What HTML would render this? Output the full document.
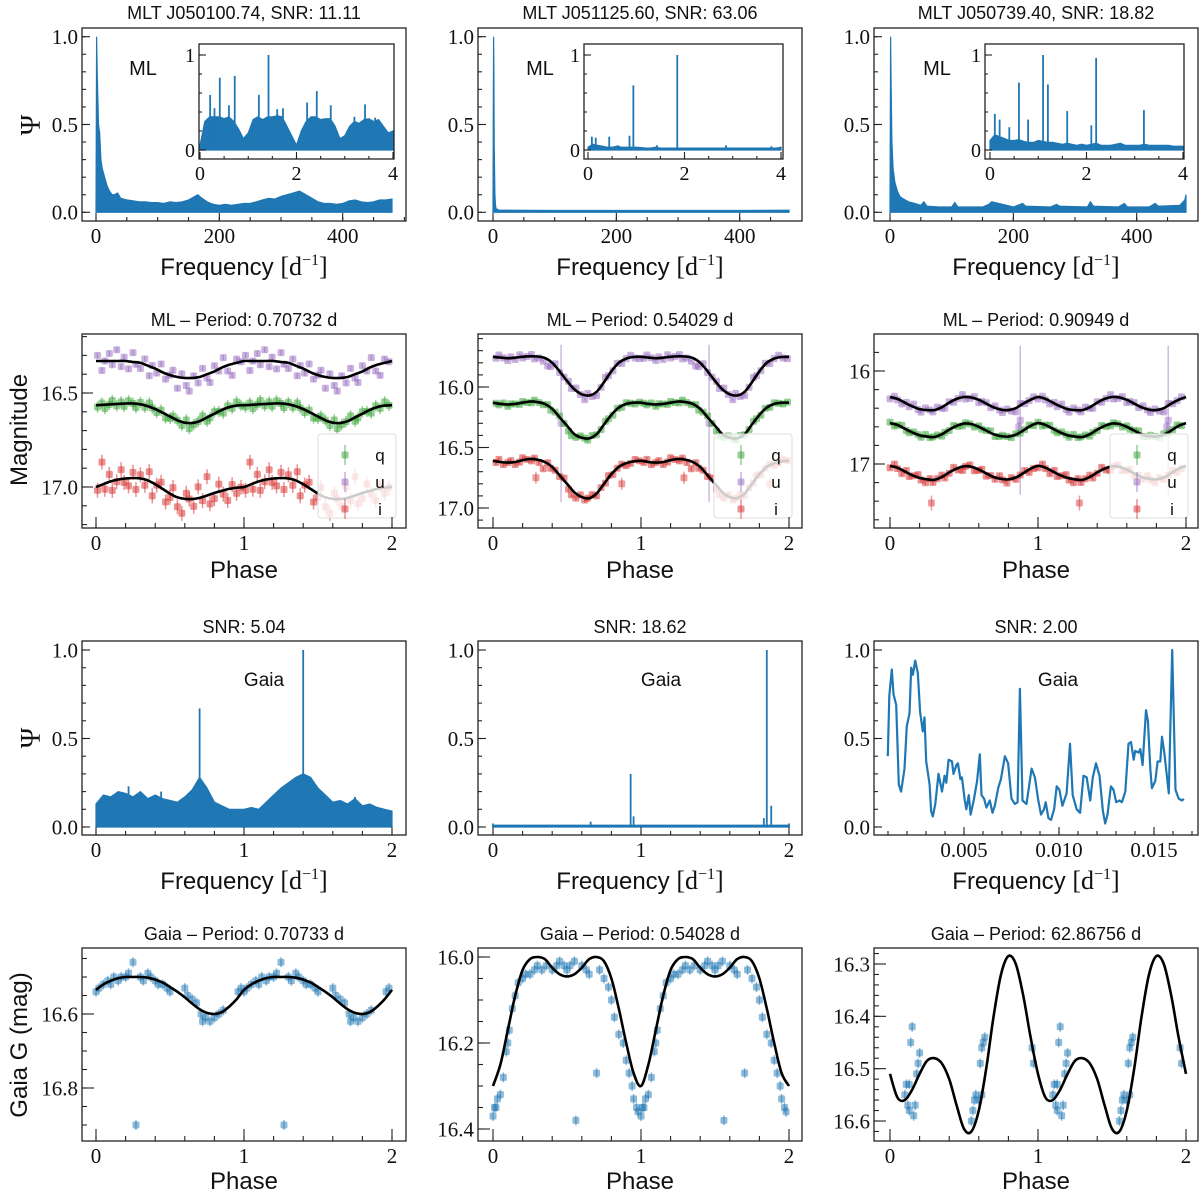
<!DOCTYPE html>
<html><head><meta charset="utf-8"><style>
html,body{margin:0;padding:0;background:#fff;}
svg{display:block;}
text{fill:#111;}
.sans{font-family:"Liberation Sans",sans-serif;}
.serif{font-family:"Liberation Serif",serif;}
</style></head>
<body>
<svg id="chart" width="1200" height="1194" viewBox="0 0 1200 1194" xmlns="http://www.w3.org/2000/svg"></svg>
<script>
// ---------- DATA ----------
const p1Freq=[0,1,2,4,6,8,10,14,18,22,26,30,35,40,50,60,70,80,90,100,110,120,130,140,150,160,165,170,180,190,200,210,220,230,240,250,260,270,280,290,300,310,320,330,340,350,360,370,380,390,400,410,420,430,440,450,460,470,480];
const p1Psi =[0,1.0,0.8,0.5,0.45,0.3,0.25,0.2,0.15,0.12,0.1,0.1,0.11,0.08,0.07,0.065,0.06,0.06,0.055,0.055,0.05,0.06,0.055,0.06,0.07,0.09,0.1,0.085,0.06,0.045,0.04,0.045,0.04,0.045,0.05,0.05,0.06,0.07,0.08,0.075,0.09,0.1,0.11,0.12,0.1,0.08,0.06,0.05,0.05,0.045,0.05,0.065,0.07,0.06,0.055,0.06,0.07,0.07,0.075];
const p2Freq=[0,0.5,1,1.5,2,3,4,5,10,100,200,300,400,480];
const p2Psi =[0,0.6,1.0,0.8,0.4,0.1,0.04,0.02,0.012,0.01,0.01,0.01,0.01,0.012];
const p3Freq=[0,1,2,3,5,8,12,16,20,30,40,50,55,60,80,100,105,110,150,160,165,200,215,220,260,270,275,320,325,330,370,380,385,420,430,435,470,478,480];
const p3Psi =[0,1.0,0.7,0.4,0.25,0.17,0.12,0.09,0.08,0.06,0.05,0.04,0.06,0.035,0.03,0.03,0.055,0.03,0.03,0.045,0.06,0.03,0.05,0.035,0.03,0.045,0.035,0.03,0.06,0.035,0.03,0.05,0.03,0.03,0.05,0.035,0.04,0.07,0.1];
const in1Env=[0.05,0.3,0.35,0.35,0.35,0.33,0.35,0.3,0.22,0.12,0.18,0.32,0.35,0.32,0.35,0.35,0.36,0.35,0.25,0.15,0.05,0.2,0.3,0.35,0.35,0.32,0.33,0.33,0.25,0.12,0.15,0.25,0.3,0.28,0.32,0.33,0.3,0.32,0.25,0.18,0.2];
const in1SpikeF=[0.21,0.30,0.41,0.6,0.72,1.22,1.42,1.6,1.72,2.22,2.42,2.71,3.2,3.42,3.63];
const in1SpikeV=[0.58,0.44,0.76,0.47,0.78,0.58,1.0,0.43,0.44,0.5,0.62,0.47,0.35,0.48,0.34];
const in2Env=[0.03,0.06,0.05,0.04,0.03,0.03,0.04,0.03,0.03,0.03,0.03,0.025,0.02,0.02,0.03,0.02,0.02,0.02,0.02,0.02,0.02,0.02,0.02,0.02,0.02,0.02,0.02,0.02,0.02,0.02,0.02,0.02,0.02,0.02,0.02,0.02,0.02,0.02,0.02,0.02,0.03];
const in2SpikeF=[0.08,0.16,0.44,0.62,0.86,0.94,1.43,1.85,2.86,3.8];
const in2SpikeV=[0.14,0.13,0.14,0.05,0.15,0.68,0.05,1.0,0.05,0.04];
const in3Env=[0.1,0.16,0.14,0.12,0.1,0.1,0.11,0.09,0.08,0.08,0.1,0.09,0.08,0.08,0.07,0.06,0.07,0.06,0.05,0.06,0.05,0.06,0.07,0.05,0.05,0.05,0.06,0.07,0.05,0.05,0.05,0.05,0.06,0.05,0.05,0.05,0.05,0.05,0.04,0.04,0.04];
const in3SpikeF=[0.1,0.2,0.4,0.6,0.79,1.1,1.2,1.6,2.1,2.2,3.19];
const in3SpikeV=[0.38,0.32,0.24,0.71,0.32,1.0,0.69,0.41,0.26,0.97,0.42];

const m1u=[16.33,16.33,16.33,16.33,16.33,16.335,16.34,16.355,16.37,16.39,16.405,16.415,16.42,16.42,16.415,16.40,16.385,16.365,16.35,16.34,16.33];
const m1q=[16.565,16.563,16.56,16.558,16.556,16.556,16.56,16.57,16.585,16.605,16.625,16.645,16.658,16.66,16.65,16.63,16.61,16.59,16.575,16.567,16.565];
const m1i=[17.0,16.985,16.97,16.96,16.955,16.952,16.955,16.965,16.985,17.01,17.035,17.055,17.063,17.064,17.058,17.045,17.032,17.02,17.01,17.004,17.0];
const m2u=[15.75,15.757,15.762,15.758,15.75,15.746,15.748,15.76,15.8,15.87,15.95,16.02,16.06,16.07,16.04,15.96,15.87,15.8,15.765,15.752,15.75];
const m2q=[16.13,16.14,16.145,16.14,16.13,16.12,16.125,16.14,16.18,16.25,16.32,16.39,16.42,16.425,16.39,16.31,16.23,16.17,16.14,16.13,16.13];
const m2i=[16.61,16.62,16.625,16.62,16.605,16.595,16.6,16.62,16.66,16.73,16.8,16.87,16.91,16.92,16.88,16.8,16.72,16.66,16.63,16.615,16.61];
const m3u=[16.28,16.30,16.34,16.38,16.41,16.42,16.42,16.39,16.34,16.30,16.28,16.285,16.31,16.35,16.39,16.415,16.42,16.40,16.35,16.31,16.28];
const m3q=[16.56,16.58,16.62,16.66,16.69,16.705,16.71,16.68,16.63,16.59,16.565,16.57,16.6,16.64,16.68,16.70,16.705,16.685,16.64,16.59,16.56];
const m3i=[17.02,17.04,17.08,17.12,17.15,17.165,17.17,17.14,17.09,17.05,17.025,17.03,17.06,17.1,17.14,17.16,17.165,17.145,17.1,17.05,17.02];
const ph1=[0.01,0.04,0.06,0.09,0.11,0.14,0.17,0.19,0.22,0.25,0.27,0.3,0.33,0.36,0.38,0.41,0.44,0.47,0.5,0.52,0.55,0.58,0.61,0.63,0.66,0.69,0.72,0.75,0.77,0.8,0.83,0.86,0.89,0.92,0.95,0.98];
const ph2=[0.02,0.04,0.07,0.1,0.12,0.15,0.18,0.2,0.23,0.26,0.28,0.31,0.34,0.37,0.39,0.42,0.45,0.48,0.51,0.53,0.56,0.59,0.62,0.64,0.67,0.7,0.73,0.76,0.78,0.81,0.84,0.87,0.9,0.93,0.96,0.99];
const ph3=[0.0,0.03,0.05,0.08,0.11,0.13,0.16,0.19,0.21,0.24,0.27,0.29,0.32,0.35,0.37,0.4,0.43,0.46,0.49,0.51,0.54,0.57,0.6,0.62,0.65,0.68,0.71,0.74,0.76,0.79,0.82,0.85,0.88,0.91,0.94,0.97];
const r1u=[-0.03,0.05,0.0,-0.04,0.02,-0.06,0.03,-0.02,0.04,-0.05,0.01,0.03,-0.03,0.05,-0.01,0.02,-0.04,0.03,0.0,-0.03,0.06,-0.02,0.04,0.07,-0.01,0.03,-0.04,0.02,0.05,-0.03,0.01,-0.05,0.03,0.06,-0.02,0.0];
const r1q=[0.01,-0.01,0.02,0.0,-0.02,0.01,-0.01,0.015,-0.015,0.0,0.02,-0.01,0.01,-0.02,0.0,0.015,-0.01,0.02,0.01,-0.01,0.0,0.02,-0.015,0.03,0.01,0.0,-0.02,0.02,0.01,-0.01,0.0,0.02,-0.01,0.01,-0.02,0.0];
const r1i=[0.02,-0.12,0.03,-0.04,0.05,0.01,-0.05,0.02,0.04,-0.03,0.06,-0.02,0.03,-0.05,0.07,0.0,-0.03,0.06,0.02,-0.04,0.05,0.08,-0.03,0.0,0.04,-0.06,0.02,-0.1,0.05,0.03,-0.04,0.02,0.06,-0.02,0.03,0.0];
const r2u=[0.01,-0.02,0.0,0.02,-0.01,0.015,-0.02,0.01,0.0,-0.015,0.02,0.01,0.03,0.05,0.04,-0.02,0.01,0.0,-0.01,0.02,-0.02,0.01,0.04,-0.015,0.02,0.03,0.01,-0.02,0.0,0.01,-0.01,0.02,0.0,-0.02,0.01,0.015];
const r2q=[0.0,0.01,-0.01,0.015,-0.005,0.0,0.01,-0.01,0.005,0.01,-0.015,0.0,0.01,-0.01,0.02,0.0,-0.01,0.01,0.03,0.04,0.02,-0.01,0.0,0.015,-0.01,0.005,0.01,-0.01,0.0,0.015,-0.005,0.01,-0.01,0.0,0.01,-0.005];
const r2i=[0.01,-0.02,0.02,0.0,-0.015,0.02,0.01,-0.02,0.0,0.015,-0.01,0.02,0.06,-0.01,0.02,0.0,0.01,-0.02,0.03,0.05,0.04,-0.01,0.02,0.0,-0.015,0.02,0.0,0.01,-0.02,0.015,0.0,-0.01,0.02,0.01,-0.015,0.0];
const r3u=[0.02,-0.02,0.01,0.03,-0.01,0.02,-0.03,0.01,0.03,-0.02,0.0,0.02,-0.02,0.01,0.03,-0.01,0.02,0.0,-0.03,0.02,0.01,-0.02,0.03,0.0,-0.01,0.02,-0.02,0.01,0.03,-0.01,0.02,0.04,-0.02,0.01,0.0,-0.02];
const r3q=[-0.01,0.02,0.0,-0.02,0.01,0.02,-0.01,0.0,0.02,-0.02,0.01,0.0,-0.01,0.02,0.0,0.01,-0.02,0.01,0.02,-0.01,0.0,0.02,-0.01,0.01,0.0,-0.02,0.02,0.01,-0.01,0.0,0.02,-0.01,0.01,0.0,-0.02,0.01];
const r3i=[0.02,-0.03,0.01,0.04,-0.02,0.03,0.0,-0.03,0.02,0.04,-0.01,0.03,0.0,-0.02,0.03,0.01,-0.03,0.02,0.04,0.0,-0.02,0.03,0.01,-0.02,0.03,0.0,0.02,-0.03,0.01,0.04,-0.01,0.02,0.0,-0.02,0.03,0.01];
const errML1=[0.03,0.015,0.04];
const errML2=[0.015,0.012,0.02];
const errML3=[0.02,0.015,0.025];
const out2Ph=[0.46,0.29,0.87];
const out2Mag=[16.3,16.75,16.8];
const out2Err=[0.65,0.05,0.05];
const out2Band=[1,2,2];
const out3Ph=[0.88,0.28,0.87];
const out3Mag=[16.53,17.42,16.6];
const out3Err=[0.8,0.08,0.05];
const out3Band=[1,2,1];

const g1Env=[0.13,0.18,0.17,0.2,0.19,0.17,0.2,0.16,0.18,0.16,0.15,0.14,0.17,0.21,0.28,0.22,0.14,0.12,0.1,0.1,0.1,0.11,0.1,0.14,0.18,0.22,0.25,0.28,0.3,0.28,0.22,0.18,0.14,0.15,0.13,0.16,0.12,0.13,0.11,0.1,0.09];
const g1SpikeF=[0.22,0.44,0.70,1.40,1.75];
const g1SpikeV=[0.23,0.2,0.67,1.0,0.17];
const g2SpikeF=[0.0,0.66,0.93,0.95,1.83,1.85,1.88,2.0];
const g2SpikeV=[0.02,0.03,0.3,0.06,0.05,1.0,0.12,0.02];
const g3Freq=[0.99,1.07,1.20,1.29,1.43,1.57,1.69,1.87,1.99,2.13,2.22,2.31,2.43,2.57,2.69,2.83,2.92,3.01,3.19,3.27,3.36,3.49,3.66,3.84,3.98,4.07,4.19,4.37,4.45,4.60,4.68,4.81,4.89,5.04,5.12,5.25,5.35,5.51,5.69,5.83,5.92,6.06,6.18,6.36,6.50,6.62,6.80,6.94,7.15,7.32,7.50,7.68,7.82,7.94,8.08,8.29,8.56,8.73,8.91,9.05,9.21,9.30,9.44,9.58,9.74,9.88,10.02,10.18,10.40,10.58,10.72,10.93,11.11,11.29,11.46,11.64,11.78,11.95,12.13,12.31,12.43,12.55,12.73,12.87,13.01,13.19,13.31,13.49,13.66,13.79,13.93,14.01,14.19,14.28,14.40,14.58,14.68,14.81,14.89,15.07,15.19,15.33,15.42,15.55,15.78,15.96,16.13,16.30,16.48,16.57];
const g3Psi=[0.40,0.74,0.89,0.75,0.69,0.24,0.20,0.33,0.57,0.64,0.90,0.86,0.94,0.87,0.65,0.54,0.62,0.37,0.24,0.09,0.06,0.13,0.30,0.20,0.29,0.25,0.38,0.37,0.30,0.35,0.36,0.27,0.28,0.15,0.10,0.18,0.07,0.15,0.26,0.41,0.18,0.16,0.11,0.15,0.08,0.12,0.22,0.27,0.40,0.36,0.16,0.13,0.14,0.78,0.15,0.13,0.33,0.28,0.15,0.07,0.10,0.14,0.05,0.04,0.10,0.23,0.21,0.12,0.19,0.47,0.18,0.10,0.08,0.29,0.28,0.15,0.28,0.36,0.29,0.09,0.02,0.07,0.23,0.21,0.14,0.15,0.14,0.20,0.47,0.48,0.38,0.43,0.42,0.44,0.35,0.66,0.60,0.32,0.22,0.26,0.37,0.37,0.51,0.41,0.19,1.0,0.21,0.16,0.15,0.16];

const gm1=[16.535,16.52,16.51,16.503,16.5,16.5,16.5,16.502,16.507,16.515,16.527,16.54,16.555,16.572,16.587,16.597,16.6,16.595,16.58,16.56,16.535];
const gm2=[16.3,16.25,16.17,16.09,16.03,16.005,16.0,16.005,16.025,16.04,16.045,16.04,16.025,16.005,16.0,16.01,16.05,16.12,16.2,16.27,16.3];
const gm3=[16.51,16.555,16.56,16.54,16.51,16.485,16.48,16.49,16.52,16.57,16.615,16.62,16.58,16.5,16.4,16.32,16.285,16.3,16.36,16.44,16.51];
const gp1=[0.0,0.02,0.05,0.08,0.1,0.12,0.15,0.17,0.2,0.22,0.25,0.27,0.3,0.32,0.35,0.37,0.4,0.42,0.45,0.48,0.5,0.6,0.62,0.65,0.68,0.71,0.72,0.74,0.77,0.8,0.83,0.86,0.96,0.98];
const gg1=[16.54,16.53,16.52,16.51,16.52,16.5,16.51,16.5,16.5,16.49,16.46,16.9,16.5,16.51,16.49,16.5,16.51,16.52,16.52,16.53,16.54,16.53,16.55,16.56,16.57,16.6,16.62,16.61,16.62,16.61,16.6,16.59,16.54,16.53];
const gp2=[0.0,0.01,0.02,0.03,0.05,0.07,0.09,0.1,0.11,0.13,0.15,0.17,0.2,0.22,0.25,0.28,0.3,0.33,0.36,0.4,0.43,0.45,0.48,0.5,0.52,0.55,0.56,0.6,0.63,0.65,0.7,0.72,0.75,0.78,0.8,0.82,0.85,0.88,0.9,0.92,0.94,0.95,0.97,0.98];
const gg2=[16.37,16.35,16.35,16.33,16.32,16.28,16.22,16.2,16.17,16.12,16.09,16.06,16.05,16.04,16.04,16.03,16.02,16.03,16.02,16.03,16.02,16.01,16.02,16.03,16.02,16.01,16.38,16.02,16.03,16.04,16.27,16.03,16.05,16.07,16.1,16.14,16.18,16.2,16.24,16.27,16.3,16.33,16.35,16.36];
const gp3=[0.1,0.11,0.12,0.13,0.13,0.14,0.15,0.16,0.17,0.18,0.19,0.2,0.55,0.56,0.57,0.58,0.6,0.61,0.62,0.62,0.63,0.64,0.96,0.97];
const gg3=[16.55,16.53,16.57,16.58,16.53,16.45,16.42,16.59,16.57,16.51,16.49,16.47,16.6,16.58,16.56,16.55,16.56,16.49,16.46,16.55,16.45,16.44,16.46,16.49];

// ---------- HELPERS ----------
const NS='http://www.w3.org/2000/svg';
const svg=document.getElementById('chart');
function mk(tag,parent){const e=document.createElementNS(NS,tag);parent.appendChild(e);return e;}
function at(e,o){for(const k in o)e.setAttribute(k,o[k]);return e;}
function lin(d0,p0,d1,p1){return v=>p0+(v-d0)*(p1-p0)/(d1-d0);}
function range(a,b,s){const r=[];for(let v=a;v<=b+1e-9;v+=s)r.push(Math.round(v/s)*s);return r;}
function txt(parent,x,y,s,size,cls,anchor){const t=mk('text',parent);at(t,{x:x,y:y,'font-size':size,'text-anchor':anchor||'middle',class:cls});t.textContent=s;return t;}
function interp(M,ph){const f=ph/0.05;const i=Math.min(Math.floor(f),M.length-2);const t=f-i;return M[i]*(1-t)+M[i+1]*t;}
function smoothPath(pts){let d='M'+pts[0][0].toFixed(1)+','+pts[0][1].toFixed(1);for(let i=0;i<pts.length-1;i++){const p0=pts[Math.max(i-1,0)],p1=pts[i],p2=pts[i+1],p3=pts[Math.min(i+2,pts.length-1)];const c1=[p1[0]+(p2[0]-p0[0])/6,p1[1]+(p2[1]-p0[1])/6],c2=[p2[0]-(p3[0]-p1[0])/6,p2[1]-(p3[1]-p1[1])/6];d+='C'+c1[0].toFixed(1)+','+c1[1].toFixed(1)+' '+c2[0].toFixed(1)+','+c2[1].toFixed(1)+' '+p2[0].toFixed(1)+','+p2[1].toFixed(1);}return d;}
let clipN=0;
function clipFor(p){const defs=mk('defs',svg);const c=mk('clipPath',defs);const id='clip'+(clipN++);c.setAttribute('id',id);at(mk('rect',c),{x:p.x0,y:p.y0,width:p.x1-p.x0,height:p.y1-p.y0});return 'url(#'+id+')';}

function drawAxes(p,name){
  const g=mk('g',svg);
  
  
  const st={stroke:'#222','stroke-width':1.1};
  for(const v of p.xMinor){const x=p.sx(v);if(x<p.x0+1||x>p.x1-1)continue;at(mk('line',g),Object.assign({x1:x,x2:x,y1:p.y1,y2:p.y1-p.minLen},st));}
  for(const v of p.yMinor){const y=p.sy(v);if(y<p.y0+1||y>p.y1-1)continue;at(mk('line',g),Object.assign({x1:p.x0,x2:p.x0+p.minLen,y1:y,y2:y},st));}
  const xl=mk('g',g);
  
  
  p.xMajor.forEach((v,k)=>{const x=p.sx(v);at(mk('line',xl),Object.assign({x1:x,x2:x,y1:p.y1,y2:p.y1-p.majLen},st));txt(xl,x,p.y1+p.fs+1,p.xLab[k],p.fs,'serif');});
  const yl=mk('g',g);
  
  
  p.yMajor.forEach((v,k)=>{const y=p.sy(v);at(mk('line',yl),Object.assign({x1:p.x0,x2:p.x0+p.majLen,y1:y,y2:y},st));txt(yl,p.x0-4,y+p.fs*0.35,p.yLab[k],p.fs,'serif','end');});
  const r=mk('rect',g);
  at(r,{x:p.x0,y:p.y0,width:p.x1-p.x0,height:p.y1-p.y0,fill:'none',stroke:'#222','stroke-width':1.3});
  
  
}
function fillSeries(p,xs,ys,name){
  const g=mk('g',svg);g.setAttribute('clip-path',clipFor(p));
  const pts=xs.map((f,i)=>p.sx(f).toFixed(1)+','+p.sy(ys[i]).toFixed(1));
  const poly=mk('polygon',g);
  at(poly,{points:p.sx(xs[0]).toFixed(1)+','+p.sy(0)+' '+pts.join(' ')+' '+p.sx(xs[xs.length-1]).toFixed(1)+','+p.sy(0),fill:'#1f77b4',stroke:'#1f77b4','stroke-width':1.2});
  
  
  return g;
}
function spikes(g,p,F,V,name){
  F.forEach((f,i)=>{const l=mk('line',g);at(l,{x1:p.sx(f),x2:p.sx(f),y1:p.sy(0),y2:p.sy(V[i]),stroke:'#1f77b4','stroke-width':1.8});
    
    });
}
function freqLabel(cx,y){
  const t=mk('text',svg);at(t,{x:cx,y:y,'text-anchor':'middle','font-size':24,class:'sans'});
  
  
  const a=mk('tspan',t);a.textContent='Frequency ';
  const b=mk('tspan',t);at(b,{class:'serif','font-size':26});b.textContent='[d';
  const c=mk('tspan',t);at(c,{class:'serif','font-size':16,dy:-10});c.textContent='\u22121';
  const d=mk('tspan',t);at(d,{class:'serif','font-size':26,dy:10});d.textContent=']';
}
function title(cx,y,s){const t=txt(svg,cx,y,s,18,'sans');}

const X0=[82,478,874],X1=[406,802,1198],Z=[96,493,890];
const COLS=['col1','col2','col3'];
const FS=21;

// ---------- ROW 1 ----------
const titles1=['MLT J050100.74, SNR: 11.11','MLT J051125.60, SNR: 63.06','MLT J050739.40, SNR: 18.82'];
const mainF=[p1Freq,p2Freq,p3Freq],mainV=[p1Psi,p2Psi,p3Psi];
const inX0=[199,584,985],inX1=[394,783,1184],inZ=[200,588,990];
const inEnv=[in1Env,in2Env,in3Env],inSF=[in1SpikeF,in2SpikeF,in3SpikeF],inSV=[in1SpikeV,in2SpikeV,in3SpikeV];
const envF=range(0,4,0.1);
for(let c=0;c<3;c++){
  const p={x0:X0[c],x1:X1[c],y0:28,y1:221,sx:lin(0,Z[c],400,Z[c]+246.7),sy:lin(0,212.3,1,36.7),
    xMajor:[0,200,400],xLab:['0','200','400'],xMinor:range(0,500,50),yMajor:[0,0.5,1],yLab:['0.0','0.5','1.0'],yMinor:range(0,1,0.1),majLen:8,minLen:4,fs:FS};
  fillSeries(p,mainF[c],mainV[c],'periodogram-ml-'+COLS[c]);
  drawAxes(p,'periodogram-ml-'+COLS[c]);
  title((X0[c]+X1[c])/2,19,titles1[c]);
  freqLabel((X0[c]+X1[c])/2,275);
  const ml=txt(svg,Z[c]+47,75,'ML',20,'sans');
  const ip={x0:inX0[c],x1:inX1[c],y0:44,y1:159,sx:lin(0,inZ[c],4,inZ[c]+193),sy:lin(0,150,1,55),
    xMajor:[0,2,4],xLab:['0','2','4'],xMinor:range(0,4,0.5),yMajor:[0,1],yLab:['0','1'],yMinor:range(0,1,0.2),majLen:7,minLen:3,fs:20};
  at(mk('rect',svg),{x:ip.x0,y:ip.y0,width:ip.x1-ip.x0,height:ip.y1-ip.y0,fill:'#fff'});
  const g=fillSeries(ip,envF,inEnv[c],'inset-periodogram-'+COLS[c]);
  spikes(g,ip,inSF[c],inSV[c],'inset-peak');
  drawAxes(ip,'inset-'+COLS[c]);
}
const psi1=txt(svg,0,0,'\u03A8',28,'serif');at(psi1,{transform:'translate(40,125) rotate(-90)'});

// ---------- ROW 2 ----------
const titles2=['ML \u2013 Period: 0.70732 d','ML \u2013 Period: 0.54029 d','ML \u2013 Period: 0.90949 d'];
const models=[[m1q,m1u,m1i],[m2q,m2u,m2i],[m3q,m3u,m3i]];
const resid=[[r1q,r1u,r1i],[r2q,r2u,r2i],[r3q,r3u,r3i]];
const phs=[ph1,ph2,ph3];
const errs=[errML1,errML2,errML3];
const bandCol=['#2ca02c','#9467bd','#d62728'];
const bandName=['q','u','i'];
const outs=[null,[out2Ph,out2Mag,out2Err,out2Band],[out3Ph,out3Mag,out3Err,out3Band]];
const r2y=[lin(16.5,393,17.0,487),lin(16.0,387,17.0,508),lin(16,371,17,464)];
const r2yMaj=[[16.5,17.0],[16.0,16.5,17.0],[16,17]];
const r2yLab=[['16.5','17.0'],['16.0','16.5','17.0'],['16','17']];
const r2yMin=[range(16.2,17.2,0.1),range(15.6,17.1,0.1),range(15.6,17.6,0.2)];
function mark(g,x,y,ey,col,op,name){
  const l=mk('line',g);at(l,{x1:x,x2:x,y1:y-ey,y2:y+ey,stroke:col,'stroke-width':1.5,opacity:op});
  const r=mk('rect',g);at(r,{x:x-3.5,y:y-3.5,width:7,height:7,rx:1.5,fill:col,opacity:op});
  
  
}
for(let c=0;c<3;c++){
  const p={x0:X0[c],x1:X1[c],y0:334,y1:528,sx:lin(0,Z[c],2,Z[c]+296),sy:r2y[c],
    xMajor:[0,1,2],xLab:['0','1','2'],xMinor:range(-0.2,2.2,0.2),yMajor:r2yMaj[c],yLab:r2yLab[c],yMinor:r2yMin[c],majLen:11,minLen:5,fs:FS};
  const g=mk('g',svg);g.setAttribute('clip-path',clipFor(p));
  
  
  if(outs[c]){const o=outs[c];o[0].forEach((ph,k)=>{for(const s of [0,1]){mark(g,p.sx(ph+s),p.sy(o[1][k]),Math.abs(p.sy(o[1][k]+o[2][k])-p.sy(o[1][k])),bandCol[o[3][k]],0.45,'outlier-point');}});}
  for(const b of [1,0,2]){
    phs[c].forEach((ph,k)=>{const m=interp(models[c][b],ph)+resid[c][b][k];const ey=Math.abs(p.sy(m+errs[c][b])-p.sy(m));
      for(const s of [0,1]) mark(g,p.sx(ph+s),p.sy(m),ey,bandCol[b],0.5,'point-'+bandName[b]);});
  }
  for(const b of [1,0,2]){
    const pts=[];for(let k=0;k<=40;k++){const ph=k*0.05;pts.push([p.sx(ph),p.sy(models[c][b][k%20===0&&k>0?20:k%20])]);}
    const path=mk('path',g);at(path,{d:smoothPath(pts),fill:'none',stroke:'#000','stroke-width':2.6});
    
    
  }
  const lx=X1[c]-88,ly=434;
  const lg=mk('g',svg);
  
  
  at(mk('rect',lg),{x:lx,y:ly,width:78,height:84,rx:3,fill:'#fff','fill-opacity':0.8,stroke:'#ddd','stroke-width':1});
  ['q','u','i'].forEach((n,k)=>{const e=mk('g',lg);
    
    
    mark(e,lx+27,ly+21+k*27,10,bandCol[k],0.5,'legend-marker');
    txt(e,lx+62,ly+27+k*27,n,17,'sans');});
  drawAxes(p,'lightcurve-ml-'+COLS[c]);
  title((X0[c]+X1[c])/2,326,titles2[c]);
  const xt=txt(svg,(X0[c]+X1[c])/2,578,'Phase',24,'sans');
}
const mag=txt(svg,0,0,'Magnitude',24,'sans');at(mag,{transform:'translate(27,430) rotate(-90)'});

// ---------- ROW 3 ----------
const titles3=['SNR: 5.04','SNR: 18.62','SNR: 2.00'];
for(let c=0;c<3;c++){
  const p={x0:X0[c],x1:X1[c],y0:641,y1:835,sy:lin(0,827,1,650),yMajor:[0,0.5,1],yLab:['0.0','0.5','1.0'],yMinor:range(0,1,0.1),majLen:8,minLen:4,fs:FS};
  if(c<2){p.sx=lin(0,Z[c],2,Z[c]+296);p.xMajor=[0,1,2];p.xLab=['0','1','2'];p.xMinor=range(0,2,0.2);}
  else{p.sx=lin(0.005,964,0.015,1154);p.xMajor=[0.005,0.010,0.015];p.xLab=['0.005','0.010','0.015'];p.xMinor=range(0.001,0.017,0.001);}
  if(c===0){const g=fillSeries(p,range(0,2,0.05),g1Env,'periodogram-gaia-col1');spikes(g,p,g1SpikeF,g1SpikeV,'gaia-peak');}
  else if(c===1){const g=fillSeries(p,[0,2],[0.01,0.01],'periodogram-gaia-col2');spikes(g,p,g2SpikeF,g2SpikeV,'gaia-peak');}
  else{const g=mk('g',svg);g.setAttribute('clip-path',clipFor(p));
    const pl=mk('polyline',g);at(pl,{points:g3Freq.map((f,i)=>p.sx(f/1000).toFixed(1)+','+p.sy(g3Psi[i]).toFixed(1)).join(' '),fill:'none',stroke:'#1f77b4','stroke-width':2.2,'stroke-linejoin':'round'});
    
    }
  drawAxes(p,'periodogram-gaia-'+COLS[c]);
  title((X0[c]+X1[c])/2,633,titles3[c]);
  freqLabel((X0[c]+X1[c])/2,889);
  const gl=txt(svg,Z[c]+168,686,'Gaia',19,'sans');
}
const psi3=txt(svg,0,0,'\u03A8',28,'serif');at(psi3,{transform:'translate(40,738) rotate(-90)'});

// ---------- ROW 4 ----------
const titles4=['Gaia \u2013 Period: 0.70733 d','Gaia \u2013 Period: 0.54028 d','Gaia \u2013 Period: 62.86756 d'];
const gms=[gm1,gm2,gm3],gps=[gp1,gp2,gp3],ggs=[gg1,gg2,gg3];
const r4y=[lin(16.6,1014,16.8,1088),lin(16.0,957,16.4,1129),lin(16.3,964,16.6,1121)];
const r4yMaj=[[16.6,16.8],[16.0,16.2,16.4],[16.3,16.4,16.5,16.6]];
const r4yLab=[['16.6','16.8'],['16.0','16.2','16.4'],['16.3','16.4','16.5','16.6']];
const r4yMin=[range(16.45,16.95,0.05),range(16.0,16.4,0.05),range(16.28,16.62,0.02)];
for(let c=0;c<3;c++){
  const p={x0:X0[c],x1:X1[c],y0:948,y1:1141,sx:lin(0,Z[c],2,Z[c]+296),sy:r4y[c],
    xMajor:[0,1,2],xLab:['0','1','2'],xMinor:range(-0.2,2.2,0.2),yMajor:r4yMaj[c],yLab:r4yLab[c],yMinor:r4yMin[c],majLen:12,minLen:5,fs:FS};
  const g=mk('g',svg);g.setAttribute('clip-path',clipFor(p));
  
  
  gps[c].forEach((ph,k)=>{for(const s of [0,1]) mark(g,p.sx(ph+s),p.sy(ggs[c][k]),5,'#1f77b4',0.5,'gaia-point');});
  const pts=[];for(let k=0;k<=40;k++){pts.push([p.sx(k*0.05),p.sy(gms[c][k%20===0&&k>0?20:k%20])]);}
  const path=mk('path',g);at(path,{d:smoothPath(pts),fill:'none',stroke:'#000','stroke-width':2.6});
  
  
  drawAxes(p,'lightcurve-gaia-'+COLS[c]);
  title((X0[c]+X1[c])/2,940,titles4[c]);
  const xt=txt(svg,(X0[c]+X1[c])/2,1189,'Phase',24,'sans');
}
const gy=txt(svg,0,0,'Gaia G (mag)',24,'sans');at(gy,{transform:'translate(27,1045) rotate(-90)'});
</script>
</body></html>
